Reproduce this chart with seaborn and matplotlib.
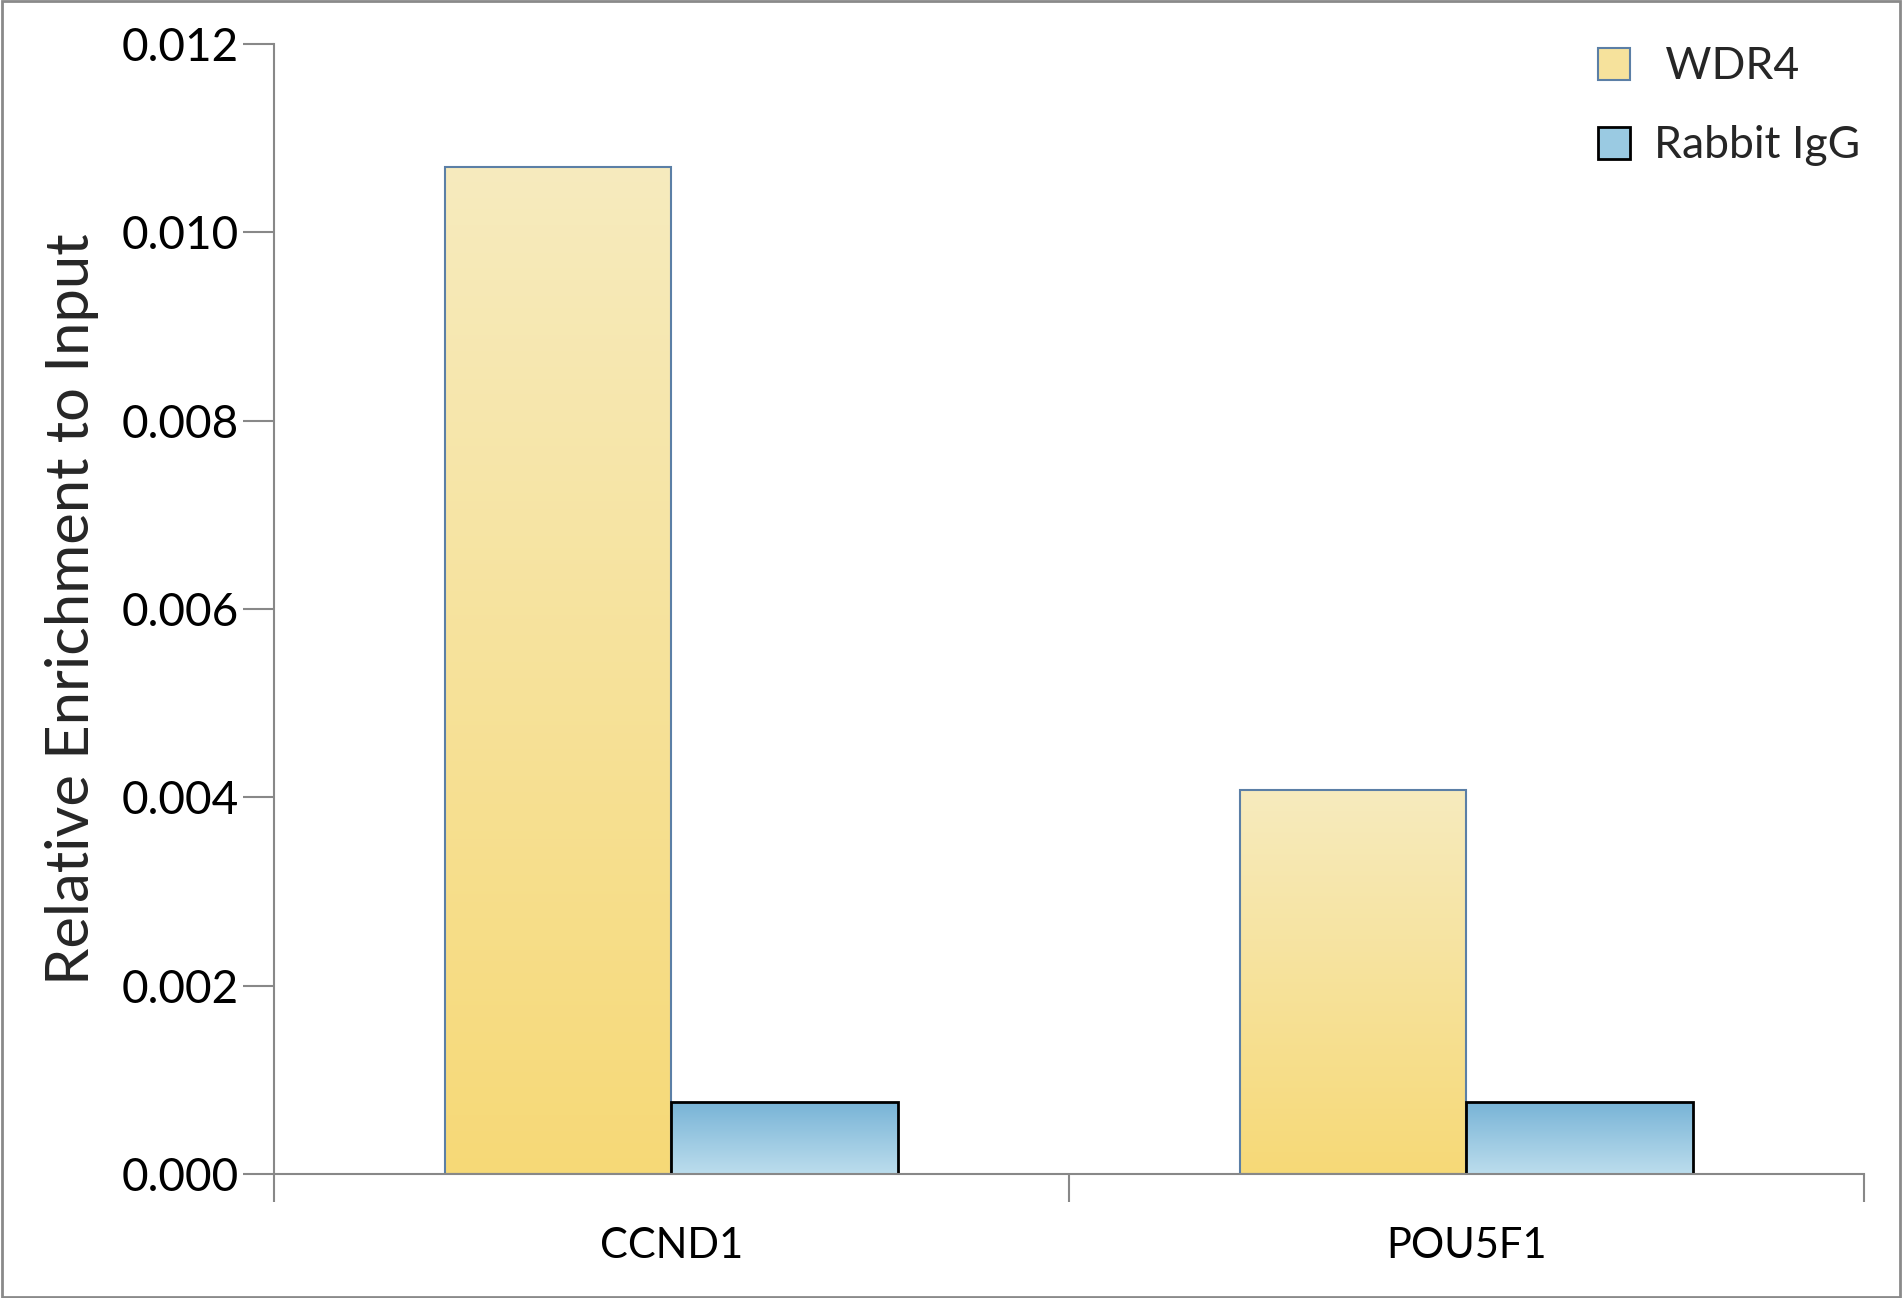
import matplotlib
matplotlib.use("Agg")
import matplotlib.pyplot as plt
from matplotlib.patches import Rectangle, Patch
from matplotlib.colors import LinearSegmentedColormap
import seaborn as sns
import numpy as np
import pandas as pd

# data
genes = ["CCND1", "POU5F1"]
series = ["WDR4", "Rabbit IgG"]
wdr4 = [0.0107, 0.00408]
igg = [0.00077, 0.00077]
yticks = [0.000, 0.002, 0.004, 0.006, 0.008, 0.010, 0.012]

df = pd.DataFrame({
    "gene": genes * 2,
    "series": [series[0]] * len(genes) + [series[1]] * len(genes),
    "value": wdr4 + igg,
})

sns.set_theme(style="white")
plt.rcParams["font.family"] = ["Lato", "DejaVu Sans"]

# gradient colours (top -> bottom) and edge colours per series
grad = {
    "WDR4": ("#F7EBBE", "#F6D977"),
    "Rabbit IgG": ("#77B3D6", "#BCDDED"),
}
edges = {"WDR4": "#5B7FA6", "Rabbit IgG": "black"}
edge_w = {"WDR4": 1.5, "Rabbit IgG": 2.0}

fig = plt.figure(figsize=(19.02, 12.98), dpi=100)
ax = fig.add_axes([0.144, 0.0955, 0.836, 0.8705])

sns.barplot(data=df, x="gene", y="value", hue="series", hue_order=series,
            palette=[grad[s][1] for s in series], width=0.57, gap=0,
            errorbar=None, ax=ax, legend=False)

# replace flat fills with vertical gradients clipped to each bar
for container, s in zip(ax.containers, series):
    cmap = LinearSegmentedColormap.from_list(s, [grad[s][1], grad[s][0]])
    for bar in container:
        x0, y0 = bar.get_x(), bar.get_y()
        w, h = bar.get_width(), bar.get_height()
        img = ax.imshow(np.linspace(0, 1, 256).reshape(-1, 1), cmap=cmap,
                        aspect="auto", origin="lower",
                        extent=[x0, x0 + w, y0, y0 + h], zorder=1.5)
        img.set_clip_path(bar)
        bar.set_facecolor("none")
        bar.set_edgecolor(edges[s])
        bar.set_linewidth(edge_w[s])
        bar.set_zorder(2)

ax.set_xlim(-0.5, len(genes) - 0.5)
ax.set_ylim(0, 0.012)
ax.set_yticks(yticks)
ax.set_yticklabels([f"{t:.3f}" for t in yticks])
ax.set_xticks(np.arange(len(genes)))
ax.set_xticklabels(genes)
ax.set_xticks(np.arange(len(genes) + 1) - 0.5, minor=True)
ax.tick_params(axis="x", which="major", length=0, labelsize=30, pad=38)
ax.tick_params(axis="x", which="minor", length=20, width=1.5,
               color="#888888", direction="out", bottom=True)
ax.tick_params(axis="y", length=22, width=1.5, color="#888888",
               direction="out", left=True, labelsize=33, pad=3)
for lab in ax.get_xticklabels() + ax.get_yticklabels():
    lab.set_color("black")

ax.set_xlabel("")
ax.set_ylabel("Relative Enrichment to Input", fontsize=43)
ax.yaxis.set_label_coords(-0.11, 0.5)

for side in ["top", "right"]:
    ax.spines[side].set_visible(False)
for side in ["left", "bottom"]:
    ax.spines[side].set_color("#888888")
    ax.spines[side].set_linewidth(1.5)

handles = [Patch(facecolor="#F6E29C", edgecolor=edges["WDR4"], linewidth=1.5),
           Patch(facecolor="#9ACAE2", edgecolor="black", linewidth=2)]
fig.legend(handles, [" WDR4", "Rabbit IgG"], loc="upper right",
           bbox_to_anchor=(0.999, 0.995), frameon=False, fontsize=32,
           handlelength=0.72, handleheight=0.72, handletextpad=0.55,
           labelspacing=0.85)

# thin grey frame round the whole picture
fig.patches.append(Rectangle((0.001, 0.001), 0.998, 0.998, transform=fig.transFigure,
                             fill=False, edgecolor="#8A8A8A", linewidth=2))

fig.savefig("out.png", dpi=100)
